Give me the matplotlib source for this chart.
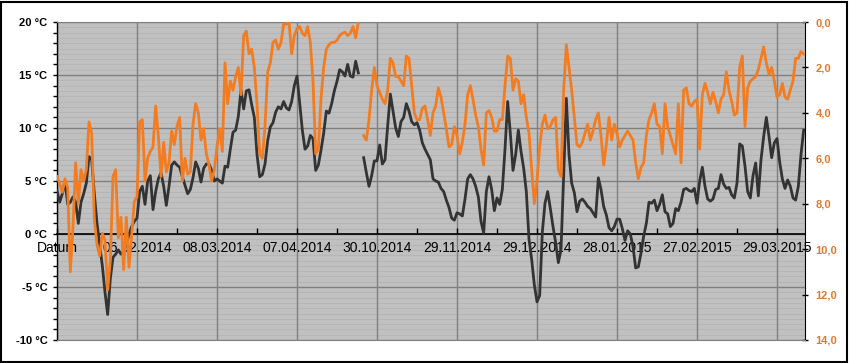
import numpy as np
import matplotlib.pyplot as plt
from matplotlib.patches import Rectangle
from matplotlib.ticker import FixedLocator, MultipleLocator

plt.rcParams['font.family'] = ['Liberation Sans', 'DejaVu Sans']

nan = np.nan

# Temperatur (linke Achse, °C), ein Wert pro Tag, Lücke Mai-Okt 2014
temp = [
    4.1, 3.0, 3.8, 5.0, 2.8, 3.0, 3.5, 3.0, 1.0, 3.0,
    3.8, 4.8, 7.3, 7.0, 3.8, 1.0, -1.0, -3.0, -5.5, -7.6,
    -4.2, -2.2, -1.9, -1.5, -1.9, -1.6, -1.0, 0.0, 0.7, 1.2,
    1.5, 4.0, 4.5, 2.8, 5.0, 5.5, 2.3, 4.0, 5.2, 5.8,
    4.5, 2.7, 4.5, 6.5, 6.8, 6.5, 6.3, 5.4, 4.6, 3.8,
    4.2, 5.3, 6.8, 6.2, 4.9, 6.2, 6.6, 6.6, 6.0, 5.0,
    5.2, 5.0, 4.8, 6.4, 6.3, 8.0, 9.6, 9.8, 11.1, 13.6,
    11.8, 13.5, 13.6, 12.2, 11.0, 7.5, 5.4, 5.6, 6.6, 8.8,
    10.1, 10.5, 11.5, 12.0, 11.8, 12.5, 11.9, 11.7, 12.5, 14.0,
    14.9, 12.4, 9.8, 8.0, 8.3, 9.3, 9.0, 6.0, 6.5, 7.9,
    9.5, 11.6, 11.4, 12.3, 13.5, 14.4, 15.5, 15.3, 14.9, 16.0,
    14.9, 14.8, 16.3, 15.2, nan, 7.2, 5.8, 4.5, 5.5, 6.9,
    6.9, 8.4, 6.6, 7.0, 10.2, 13.2, 11.6, 10.0, 9.2, 10.6,
    11.0, 12.3, 11.6, 10.6, 10.3, 10.5, 9.8, 8.6, 8.0, 7.5,
    7.0, 5.2, 5.0, 4.9, 4.3, 4.0, 3.2, 2.5, 1.5, 1.3,
    2.0, 1.9, 1.7, 3.3, 5.2, 5.6, 5.2, 4.5, 3.5, 1.2,
    0.1, 4.0, 5.4, 4.2, 2.2, 3.4, 2.8, 4.2, 8.0, 12.5,
    9.5, 6.0, 7.5, 9.8, 7.8, 6.2, 4.0, -0.5, -2.4, -4.8,
    -6.4, -5.8, 0.2, 2.9, 4.0, 2.4, 0.7, -0.8, -2.7, -1.5,
    5.5, 12.8, 7.5, 4.8, 3.9, 2.1, 3.1, 3.3, 3.0, 2.6,
    2.4, 2.0, 1.6, 5.3, 4.2, 2.6, 1.8, 0.6, 0.3, 0.7,
    1.4, 1.4, 0.5, -0.6, 0.3, 0.0, -1.2, -3.2, -3.1, -1.8,
    -0.2, 1.0, 3.0, 2.9, 3.2, 2.2, 2.8, 3.7, 2.1, 1.9,
    0.7, 1.0, 2.4, 2.2, 3.0, 4.2, 4.3, 4.1, 4.0, 4.3,
    2.9, 5.0, 6.3, 4.5, 3.3, 3.1, 3.3, 4.2, 4.3, 5.6,
    4.7, 4.3, 4.4, 3.7, 3.4, 4.8, 8.5, 8.3, 6.4, 4.0,
    3.4, 5.5, 6.7, 3.6, 7.0, 9.2, 11.0, 9.2, 7.2, 8.6,
    9.0, 6.8, 5.2, 4.3, 5.1, 4.5, 3.4, 3.2, 4.5, 7.5,
    9.8,
]

# zweite Reihe (rechte Achse, umgekehrt 0 oben bis 14 unten)
wert = [
    6.8, 7.1, 7.5, 6.9, 7.3, 11.0, 9.0, 6.2, 8.0, 6.5,
    7.0, 6.5, 4.4, 4.9, 8.7, 9.8, 10.3, 9.3, 9.6, 11.8,
    10.5, 6.8, 6.5, 9.5, 8.6, 10.9, 8.6, 10.8, 9.4, 7.9,
    7.7, 4.4, 4.3, 7.0, 6.0, 5.7, 5.5, 3.7, 5.0, 6.8,
    5.3, 6.6, 6.2, 4.8, 5.4, 4.6, 4.2, 7.0, 6.0, 6.7,
    6.6, 4.5, 3.6, 4.0, 5.2, 4.7, 5.8, 6.3, 7.0, 6.5,
    5.5, 4.7, 5.7, 1.8, 3.6, 2.6, 3.0, 2.4, 2.0, 3.2,
    0.6, 0.4, 1.4, 1.2, 2.0, 3.6, 5.8, 6.0, 4.6, 2.2,
    1.8, 0.9, 0.8, 1.2, 0.9, 0.1, 0.1, 0.0, 1.4, 0.6,
    0.3, 0.2, 0.5, 0.6, 0.2, 0.9, 2.6, 5.8, 5.6, 3.4,
    2.0, 1.2, 1.0, 0.9, 0.9, 0.8, 0.6, 0.5, 0.45, 0.6,
    0.5, 0.2, 0.7, 0.0, nan, 5.0, 5.2, 4.3, 3.0, 2.0,
    2.8, 3.1, 3.4, 3.6, 3.0, 1.6, 1.8, 2.4, 2.4, 2.6,
    2.8, 1.5, 1.6, 2.8, 4.0, 4.3, 4.3, 3.8, 3.7, 4.3,
    5.0, 4.0, 3.7, 2.9, 3.3, 4.0, 4.7, 5.5, 5.4, 4.6,
    5.0, 5.8, 5.3, 4.5, 3.2, 2.8, 3.4, 4.1, 4.6, 5.6,
    6.3, 4.0, 3.9, 4.2, 4.8, 4.8, 4.3, 4.3, 2.8, 1.5,
    1.6, 3.0, 2.5, 2.6, 3.6, 3.2, 4.2, 4.9, 6.5, 8.0,
    7.0, 5.5, 4.5, 4.1, 4.7, 4.6, 4.3, 4.2, 6.5, 6.8,
    3.0, 1.0, 2.0, 3.0, 4.2, 5.4, 5.5, 5.3, 4.9, 4.5,
    5.2, 4.8, 4.3, 4.0, 5.0, 6.3, 5.4, 4.2, 5.2, 4.5,
    4.9, 5.5, 5.2, 5.0, 4.8, 5.0, 5.2, 6.2, 6.9, 6.4,
    6.2, 5.0, 4.3, 4.0, 3.6, 4.5, 4.6, 5.8, 3.6, 4.6,
    5.0, 5.4, 5.8, 3.6, 6.2, 3.0, 2.9, 3.6, 3.7, 3.5,
    3.4, 5.6, 3.2, 2.7, 3.1, 3.6, 3.1, 3.5, 4.0, 3.4,
    3.2, 2.2, 3.0, 3.5, 4.1, 4.0, 2.0, 1.5, 4.6, 2.9,
    2.6, 2.5, 2.4, 2.1, 1.6, 1.1, 1.8, 2.3, 2.0, 2.6,
    3.3, 3.2, 2.7, 3.3, 3.4, 3.0, 2.6, 1.6, 1.6, 1.3,
    1.4,
]

datum_labels = ["Datum", "06.02.2014", "08.03.2014", "07.04.2014", "30.10.2014",
                "29.11.2014", "29.12.2014", "28.01.2015", "27.02.2015", "29.03.2015"]
links_ticks = [-10, -5, 0, 5, 10, 15, 20]
rechts_ticks = [0, 2, 4, 6, 8, 10, 12, 14]

temp = np.array(temp, dtype=float)
wert = np.array(wert, dtype=float)
x = np.arange(len(temp))

fig = plt.figure(figsize=(8.5, 3.63), dpi=100)
ax = fig.add_axes([57 / 850, 23 / 363, 748 / 850, 318 / 363])
ax.set_facecolor('#c0c0c0')

# feine Streifen im Hintergrund
for yy in np.arange(-10, 20, 0.5):
    ax.axhline(yy, color='#b3b3b3', lw=0.6, zorder=0.5)

ax.plot(x, temp, color='#333333', lw=2, zorder=3)
ax.set_xlim(0, 280.5)
ax.set_ylim(-10, 20)

ax.set_yticks(links_ticks)
ax.set_yticklabels([f"{v} °C" for v in links_ticks], fontsize=8, fontweight='bold')
ax.yaxis.set_minor_locator(MultipleLocator(1))
ax.tick_params(axis='y', which='both', direction='out', length=3, width=1, pad=4)

tick_pos = list(range(0, 30 * len(datum_labels), 30))
ax.xaxis.set_major_locator(FixedLocator(tick_pos))
ax.xaxis.set_minor_locator(FixedLocator(list(range(15, 281, 30))))
ax.set_xticklabels(datum_labels, fontsize=8)
ax.tick_params(axis='x', which='both', direction='in', length=4, width=1, pad=5)

ax.grid(axis='y', which='major', color='#7f7f7f', lw=1)
ax.grid(axis='x', which='major', color='#7f7f7f', lw=1)

ax.spines['bottom'].set_position(('data', 0))
ax.spines['bottom'].set_linewidth(1.2)
ax.spines['left'].set_linewidth(1)
ax.spines['top'].set_visible(False)
ax.spines['right'].set_visible(False)

ax2 = ax.twinx()
ax2.plot(x, wert, color='#f47c20', lw=2, zorder=3)
ax2.set_ylim(14, 0)
ax2.set_yticks(rechts_ticks)
ax2.set_yticklabels([f"{v:.1f}".replace('.', ',') for v in rechts_ticks],
                    fontsize=8, fontweight='bold', color='#e07a30')
ax2.tick_params(axis='y', direction='inout', length=5, width=1, pad=5)
ax2.spines['right'].set_color('black')
ax2.spines['left'].set_visible(False)
ax2.spines['top'].set_color('#808080')
ax2.spines['bottom'].set_color('#808080')

fig.patches.append(Rectangle((1 / 850, 1 / 363), 846 / 850, 360 / 363,
                             transform=fig.transFigure, fill=False,
                             edgecolor='black', lw=1.5))

fig.savefig('out.png', dpi=100)
